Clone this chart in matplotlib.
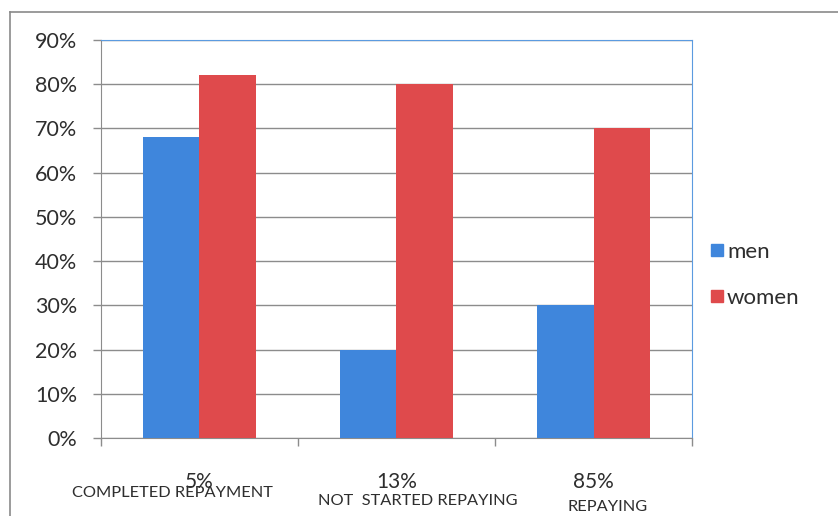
import numpy as np
import matplotlib
matplotlib.use("Agg")
import matplotlib.pyplot as plt
from matplotlib.lines import Line2D
from matplotlib.ticker import FixedLocator, PercentFormatter

plt.rcParams['font.family'] = ['Lato', 'DejaVu Sans']

shares = ['5%', '13%', '85%']
stages = ['COMPLETED REPAYMENT', 'NOT  STARTED REPAYING', 'REPAYING']
men = [68, 20, 30]
women = [82, 80, 70]

BLUE = '#3f86dc'
RED = '#df4a4c'
GRID = '#8c8c8c'
TEXT = '#2e2e2e'

fig = plt.figure(figsize=(8.38, 5.16), dpi=100)
ax = fig.add_axes([0.1205, 0.1512, 0.7053, 0.7713])

x = np.arange(len(shares))
w = 0.287
ax.bar(x - w / 2, men, w, color=BLUE, label='men', zorder=3)
ax.bar(x + w / 2, women, w, color=RED, label='women', zorder=3)

ax.set_xlim(-0.5, 2.5)
ax.set_ylim(0, 90)
ax.set_yticks(np.arange(0, 91, 10))
ax.yaxis.set_major_formatter(PercentFormatter(decimals=0))
ax.yaxis.grid(True, color=GRID, linewidth=1.0, zorder=0)

ax.set_xticks(x)
ax.set_xticklabels(shares, fontsize=15, color=TEXT)
ax.xaxis.set_minor_locator(FixedLocator([-0.5, 0.5, 1.5, 2.5]))
ax.tick_params(axis='x', which='major', length=0, pad=24.5)
ax.tick_params(axis='x', which='minor', length=6, color=GRID, width=1)
ax.tick_params(axis='y', length=6, color=GRID, width=1, labelsize=15.5,
               labelcolor=TEXT, pad=11)

for side in ('left', 'bottom'):
    ax.spines[side].set_color(GRID)
for side in ('top', 'right'):
    ax.spines[side].set_color('#5b9be0')

# stage names sit under the share labels, a little off centre
offsets = [-0.135, 0.11, 0.07]
drops = [-0.137, -0.158, -0.173]
trans = ax.get_xaxis_transform()
for xi, name, dx, dy in zip(x, stages, offsets, drops):
    ax.text(xi + dx, dy, name, transform=trans, ha='center', va='center',
            fontsize=11.8, color=TEXT)

handles = [Line2D([], [], marker='s', linestyle='', markersize=9,
                  markerfacecolor=c, markeredgecolor=c) for c in (BLUE, RED)]
fig.legend(handles, ['men', 'women'], loc='center left',
           bbox_to_anchor=(0.845, 0.467), frameon=False, fontsize=16,
           handletextpad=0.05, labelspacing=1.15, labelcolor=TEXT,
           handlelength=0.8, borderpad=0.0, borderaxespad=0.0)

# outer chart border, running off the top-right and bottom-left
fig.add_artist(Line2D([10 / 838, 1], [1 - 12 / 516] * 2,
                      transform=fig.transFigure, color='#8a8a8a', linewidth=1.2))
fig.add_artist(Line2D([10 / 838] * 2, [0, 1 - 12 / 516],
                      transform=fig.transFigure, color='#8a8a8a', linewidth=1.2))

fig.savefig('out.png', dpi=100)
